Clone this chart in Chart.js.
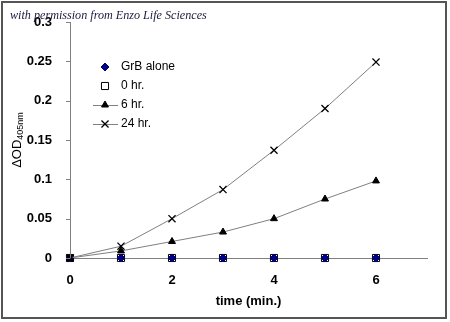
<!DOCTYPE html>
<html>
<head>
<meta charset="utf-8">
<script src="https://cdn.jsdelivr.net/npm/chart.js@4/dist/chart.umd.min.js"></script>
<style>
  html, body { margin: 0; padding: 0; background: #fff; }
  #wrap { width: 450px; height: 322px; }
</style>
</head>
<body>
<div id="wrap"><canvas id="od-chart" width="450" height="322"></canvas></div>
<script>
// time points (min.) and ΔOD405nm readings
const times = [0, 1, 2, 3, 4, 5, 6];
const grbAlone = [0, 0, 0, 0, 0, 0, 0];
const hr0 = [0, 0, 0, 0, 0, 0, 0];
const hr6 = [0, 0.009, 0.021, 0.033, 0.050, 0.075, 0.098];
const hr24 = [0, 0.015, 0.050, 0.087, 0.137, 0.190, 0.249];
const seriesLabels = ['GrB alone', '0 hr.', '6 hr.', '24 hr.'];
const xTickLabels = ['0', '2', '4', '6'];
const yTickLabels = ['0', '0.05', '0.1', '0.15', '0.2', '0.25', '0.3'];

const toPoints = arr => times.map((t, i) => ({ x: t, y: arr[i] }));
const GRAY = '#808080';

const datasets = [
  {
    label: seriesLabels[0], data: toPoints(grbAlone), showLine: false, order: 2,
    pointStyle: 'rectRot', pointRadius: 4, pointBackgroundColor: '#000080',
    pointBorderColor: '#000080', pointBorderWidth: 1
  },
  {
    label: seriesLabels[1], data: toPoints(hr0), showLine: false, order: 3,
    pointStyle: 'rect', pointRadius: 5, pointBackgroundColor: '#fff',
    pointBorderColor: '#000', pointBorderWidth: 1
  },
  {
    label: seriesLabels[2], data: toPoints(hr6), showLine: true, order: 0,
    borderColor: GRAY, borderWidth: 1, tension: 0,
    pointStyle: 'triangle', pointRadius: 4, pointBackgroundColor: '#000',
    pointBorderColor: '#000', pointBorderWidth: 1
  },
  {
    label: seriesLabels[3], data: toPoints(hr24), showLine: true, order: 1,
    borderColor: GRAY, borderWidth: 1, tension: 0,
    pointStyle: 'crossRot', pointRadius: 5, pointBackgroundColor: '#000',
    pointBorderColor: '#000', pointBorderWidth: 1.3
  }
];
datasets.forEach(d => { d.clip = false; d.fill = false; });

// frame, watermark, split-font y title and legend with line samples
const decorations = {
  id: 'decorations',
  beforeDraw(chart) {
    const ctx = chart.ctx;
    ctx.save();
    ctx.fillStyle = '#fff';
    ctx.fillRect(0, 0, chart.width, chart.height);
    ctx.restore();
  },
  afterDraw(chart) {
    const ctx = chart.ctx;
    const area = chart.chartArea;
    ctx.save();

    // y axis line with outside tick marks
    const yScale = chart.scales.y;
    ctx.strokeStyle = GRAY;
    ctx.lineWidth = 1;
    ctx.beginPath();
    ctx.moveTo(area.left + 0.5, area.top);
    ctx.lineTo(area.left + 0.5, area.bottom);
    yScale.ticks.forEach(t => {
      const py = Math.round(yScale.getPixelForValue(t.value)) + 0.5;
      ctx.moveTo(area.left - 4, py);
      ctx.lineTo(area.left + 0.5, py);
    });
    ctx.stroke();

    // outer frame
    ctx.strokeStyle = '#555';
    ctx.lineWidth = 2;
    ctx.strokeRect(2, 2, 444, 316);

    // y axis title: ΔOD with 405nm subscript
    ctx.translate(21, 140);
    ctx.rotate(-Math.PI / 2);
    ctx.fillStyle = '#000';
    ctx.textBaseline = 'alphabetic';
    ctx.font = '13px "Liberation Sans", Arial, sans-serif';
    const main = 'ΔOD';
    const mainW = ctx.measureText(main).width;
    ctx.font = '9px "Liberation Sans", Arial, sans-serif';
    const sub = '405nm';
    const subW = ctx.measureText(sub).width;
    const start = -(mainW + subW) / 2;
    ctx.font = '13px "Liberation Sans", Arial, sans-serif';
    ctx.fillText(main, start, 0);
    ctx.font = '9px "Liberation Sans", Arial, sans-serif';
    ctx.fillText(sub, start + mainW, 1.5);
    ctx.setTransform(1, 0, 0, 1, 0, 0);

    // legend
    const rows = [67, 86, 105, 124];
    ctx.font = '12px "Liberation Sans", Arial, sans-serif';
    ctx.textBaseline = 'middle';
    ctx.textAlign = 'left';
    datasets.forEach((d, i) => {
      const y = rows[i];
      const mx = 105;
      if (d.showLine) {
        ctx.strokeStyle = GRAY;
        ctx.lineWidth = 1;
        ctx.beginPath();
        ctx.moveTo(93, y + 0.5);
        ctx.lineTo(118, y + 0.5);
        ctx.stroke();
      }
      ctx.fillStyle = d.pointBackgroundColor;
      ctx.strokeStyle = d.pointBorderColor;
      ctx.lineWidth = d.pointBorderWidth;
      Chart.helpers.drawPoint(ctx, {
        pointStyle: d.pointStyle, radius: d.pointRadius,
        borderWidth: d.pointBorderWidth, rotation: 0
      }, mx, y);
      ctx.fillStyle = '#000';
      ctx.fillText(d.label, 121, y);
    });

    // watermark line
    const note = 'with permission from Enzo Life Sciences';
    let size = 13;
    ctx.font = 'italic ' + size + 'px "Liberation Serif", "DejaVu Serif", serif';
    size = size * 197 / ctx.measureText(note).width;
    ctx.font = 'italic ' + size.toFixed(2) + 'px "Liberation Serif", "DejaVu Serif", serif';
    ctx.fillStyle = '#1a1a40';
    ctx.textBaseline = 'alphabetic';
    ctx.fillText(note, 10, 19);

    ctx.restore();
  }
};

new Chart(document.getElementById('od-chart'), {
  type: 'scatter',
  data: { datasets },
  options: {
    responsive: false,
    animation: false,
    devicePixelRatio: 1,
    layout: { padding: { top: 22, right: 23, left: 0, bottom: 0 } },
    plugins: { legend: { display: false }, tooltip: { enabled: false } },
    scales: {
      x: {
        type: 'linear', min: 0, max: 7,
        border: { display: true, color: GRAY, width: 1 },
        grid: { drawOnChartArea: false, drawTicks: false },
        ticks: {
          stepSize: 1, padding: 15, color: '#000', maxRotation: 0, autoSkip: false,
          font: { family: '"Liberation Sans", Arial, sans-serif', size: 13, weight: 'bold' },
          callback: v => xTickLabels.includes(String(v)) ? String(v) : null
        },
        title: {
          display: true, text: 'time (min.)', color: '#000', padding: { top: 0, bottom: 13 },
          font: { family: '"Liberation Sans", Arial, sans-serif', size: 13, weight: 'bold' }
        },
        afterFit(scale) { scale.height = 64; }
      },
      y: {
        type: 'linear', min: 0, max: 0.3,
        border: { display: false },
        grid: { display: false },
        ticks: {
          stepSize: 0.05, padding: 10, color: '#000',
          font: { family: '"Liberation Sans", Arial, sans-serif', size: 13, weight: 'bold' },
          callback: (v, i) => yTickLabels[i]
        },
        afterFit(scale) { scale.width = 70; }
      }
    }
  },
  plugins: [decorations]
});
</script>
</body>
</html>
